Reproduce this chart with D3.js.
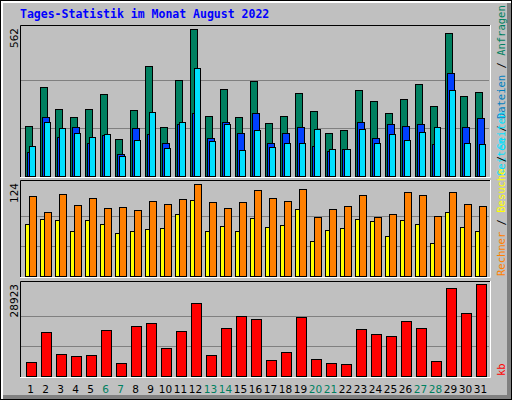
<!DOCTYPE html>
<html><head><meta charset="utf-8">
<script src="https://cdn.jsdelivr.net/npm/d3@7"></script>
<style>body{margin:0;background:#fff}svg{display:block}</style>
</head><body>
<script>
const days = d3.range(1, 32);
const weekend = [6, 7, 13, 14, 20, 21, 27, 28];
const hits = [193,342,258,227,258,315,140,254,422,186,368,562,231,334,224,365,201,231,319,250,166,174,327,285,239,296,353,269,548,307,323];
const files = [90,227,151,186,128,155,83,182,159,128,197,239,147,205,163,239,125,163,189,113,94,102,205,144,197,193,197,121,395,189,220];
const pages = [113,205,182,163,151,159,75,136,243,106,208,414,132,197,98,174,109,128,125,178,102,102,178,125,159,136,170,186,327,128,121];
const visits = [70,77,76,60,76,70,58,60,64,65,84,103,60,68,60,78,66,69,90,47,62,65,77,74,54,76,70,45,86,66,60];
const sites = [108,86,111,96,105,92,93,89,101,97,104,124,100,92,100,116,105,101,117,80,90,94,109,80,84,113,109,81,113,97,94];
const kbytes = [4313,13780,6838,6206,6522,14410,3997,15673,16619,8730,14095,22930,6522,15040,18830,17880,4944,7468,18510,5259,3997,3682,14726,13148,12517,17250,15040,4628,27660,19776,28923];

const W = 512, H = 400;
const svg = d3.select("body").append("svg").attr("width", W).attr("height", H)
  .style("font-family", "DejaVu Sans, sans-serif");

// frame
svg.append("rect").attr("width", W).attr("height", H).attr("fill", "#000");
svg.append("rect").attr("x", 1).attr("y", 1).attr("width", W - 2).attr("height", H - 2).attr("fill", "#fff");
svg.append("rect").attr("x", 3).attr("y", 3).attr("width", W - 4).attr("height", H - 4).attr("fill", "#808080");
svg.append("rect").attr("x", 3).attr("y", 3).attr("width", W - 8).attr("height", H - 8).attr("fill", "#c0c0c0");

svg.append("text").attr("x", 20).attr("y", 18).attr("fill", "#0000ff")
  .style("font-family", "DejaVu Sans Mono, monospace").style("font-weight", "bold").style("font-size", "11.5px")
  .text("Tages-Statistik im Monat August 2022");

const x = d3.scaleBand().domain(days).range([20, 485]).paddingInner(0).paddingOuter(0);
const step = x.step();

function panel(top, bottom, max) {
  const y = d3.scaleLinear().domain([0, max]).range([bottom, top + 4]);
  const g = svg.append("g");
  g.append("rect").attr("x", 20).attr("y", top).attr("width", 470).attr("height", bottom - top + 1).attr("fill", "#c0c0c0");
  [1, 2].forEach(k => {
    const yy = Math.round(bottom - (bottom - top - 4) * k / 3.05) + 0.5;
    g.append("line").attr("x1", 21).attr("x2", 489).attr("y1", yy).attr("y2", yy).attr("stroke", "#808080");
  });
  return { y, g };
}
function frame(top, bottom) {
  svg.append("path").attr("d", `M20.5,${bottom + 1}V${top + 0.5}H490`).attr("fill", "none").attr("stroke", "#000");
  svg.append("path").attr("d", `M20,${bottom + 1.5}H490.5V${top}`).attr("fill", "none").attr("stroke", "#fff");
}
function bars(g, y, data, dx, w, color) {
  g.selectAll(null).data(data).join("rect")
    .attr("x", (d, i) => x(days[i]) + dx + 0.5)
    .attr("y", d => Math.round(y(d)) + 0.5)
    .attr("width", w)
    .attr("height", d => y(0) - Math.round(y(d)))
    .attr("fill", color).attr("stroke", "#000");
}

// top panel
const p1 = panel(25, 176, 562 * 147 / 143);
const y1 = d3.scaleLinear().domain([0, 562]).range([176, 29]);
bars(p1.g, y1, hits, 5, 7, "#008060");
bars(p1.g, y1, files, 7, 7, "#0040ff");
bars(p1.g, y1, pages, 9, 6, "#00e0ff");
frame(25, 176);

// middle panel
const p2 = panel(180, 276, 124);
const y2 = d3.scaleLinear().domain([0, 124]).range([276, 184]);
bars(p2.g, y2, visits, 5, 4, "#ffff00");
bars(p2.g, y2, sites, 9, 7, "#ff8000");
frame(180, 276);

// bottom panel
const p3 = panel(281, 376, 28923);
const y3 = d3.scaleLinear().domain([0, 28923]).range([376, 284]);
bars(p3.g, y3, kbytes, 6, 10, "#ff0000");
frame(281, 376);

// day labels
svg.selectAll(null).data(days).join("text")
  .attr("x", d => x(d) + step / 2 + 3).attr("y", 393).attr("text-anchor", "middle")
  .style("font-size", "10.5px")
  .attr("fill", d => weekend.includes(d) ? "#008060" : "#000")
  .text(d => d);

// left max labels
[[562, 28], [124, 183], [28923, 284]].forEach(([v, yy]) => {
  svg.append("text").attr("transform", `translate(18,${yy}) rotate(-90)`)
    .attr("text-anchor", "end").style("font-size", "10.5px").text(v);
});

// right legends
function legend(parts, yb) {
  const t = svg.append("text").attr("transform", `translate(505,${yb}) rotate(-90)`)
    .style("font-size", "10.5px").style("font-family", "DejaVu Sans Mono, monospace");
  parts.forEach(([s, c]) => t.append("tspan").attr("fill", c).text(s));
}
legend([["Seiten", "#00e0ff"], [" / ", "#000"], ["Dateien", "#0080c0"], [" / ", "#000"], ["Anfragen", "#008060"]], 176);
legend([["Rechner", "#ff8000"], [" / ", "#000"], ["Besuche", "#ffff00"], [" / ", "#000"], ["Seiten", "#00e0ff"]], 276);
legend([["kb", "#ff0000"]], 376);
</script>
</body></html>
